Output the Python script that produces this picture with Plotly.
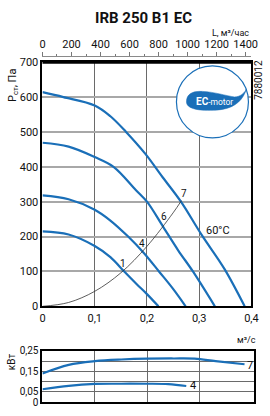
import plotly.graph_objects as go

W, H = 270, 416

# ---- data: pressure curves (flow, m3/s ; static pressure, Pa)
q1 = [0, 0.05, 0.1, 0.13, 0.157, 0.18, 0.2, 0.222]
p1 = [215, 206, 173, 141, 99, 64, 35, 0]
q4 = [0, 0.05, 0.1, 0.13, 0.164, 0.194, 0.223, 0.25, 0.274]
p4 = [318, 307, 277, 246, 200, 153, 100, 50, 0]
q6 = [0, 0.05, 0.1, 0.136, 0.179, 0.2, 0.231, 0.26, 0.288, 0.33]
p6 = [469, 458, 428, 400, 333, 300, 228, 160, 100, 0]
q7 = [0, 0.04, 0.1, 0.13, 0.16, 0.197, 0.23, 0.265, 0.305, 0.348, 0.387]
p7 = [614, 600, 576, 545, 500, 437, 370, 300, 204, 108, 0]
# network (system) curve
qs = [0, 0.05, 0.1, 0.15, 0.2, 0.25, 0.266]
ps = [0, 11, 43, 96, 172, 268, 303]

# ---- data: power curves (flow, m3/s ; kW)
qw7 = [0, 0.05, 0.1, 0.15, 0.2, 0.25, 0.29, 0.33, 0.385]
w7 = [0.14, 0.182, 0.2, 0.208, 0.212, 0.213, 0.212, 0.2, 0.185]
qw4 = [0, 0.05, 0.1, 0.15, 0.2, 0.24, 0.274]
w4 = [0.063, 0.08, 0.089, 0.09, 0.09, 0.088, 0.079]

x_ticks = [0, 0.1, 0.2, 0.3, 0.4]
x_ticktext = ["0", "0,1", "0,2", "0,3", "0,4"]
top_ticks = [0, 200, 400, 600, 800, 1000, 1200, 1400]
kw_ticks = [0, 0.05, 0.1, 0.15, 0.2, 0.25]
kw_ticktext = ["0", "0,05", "", "0,15", "", "0,25"]

BLUE = "#1a6fb8"
FONT = "Roboto"

def px_x(p):
    return p / W

def px_y(p):
    return 1 - p / H

fig = go.Figure()

for q, p in [(q1, p1), (q4, p4), (q6, p6), (q7, p7)]:
    fig.add_trace(go.Scatter(x=q, y=p, mode="lines", line=dict(color=BLUE, width=2.2, shape="spline"),
                             xaxis="x", yaxis="y", showlegend=False, hoverinfo="skip"))
fig.add_trace(go.Scatter(x=qs, y=ps, mode="lines", line=dict(color="#333333", width=0.8, shape="spline"),
                         xaxis="x", yaxis="y", showlegend=False, hoverinfo="skip"))
# invisible trace for top axis
fig.add_trace(go.Scatter(x=[0, 1440], y=[None, None], mode="lines", xaxis="x2", yaxis="y",
                         showlegend=False, hoverinfo="skip"))
for q, w in [(qw7, w7), (qw4, w4)]:
    fig.add_trace(go.Scatter(x=q, y=w, mode="lines", line=dict(color=BLUE, width=2.2, shape="spline"),
                             xaxis="x3", yaxis="y3", showlegend=False, hoverinfo="skip"))

main_x = [px_x(41), px_x(258)]
low_x = [px_x(41), px_x(261)]
main_y = [px_y(310), px_y(58)]
low_y = [px_y(409), px_y(356)]

tickfont = dict(family=FONT, size=11, color="#111")
tickfont_low = dict(family=FONT, size=10, color="#111")

fig.update_layout(
    width=W, height=H, margin=dict(l=0, r=0, t=0, b=0),
    paper_bgcolor="white", plot_bgcolor="white",
    font=dict(family=FONT, color="#111"),
    xaxis=dict(domain=main_x, range=[0, 0.4], anchor="y", tickvals=x_ticks, ticktext=x_ticktext,
               showgrid=True, gridcolor="#6a6a6a", gridwidth=1, zeroline=False,
               showline=True, linecolor="black", linewidth=2, mirror=True, ticks="",
               tickfont=tickfont, fixedrange=True),
    yaxis=dict(domain=main_y, range=[0, 700], dtick=100, anchor="x",
               showgrid=True, gridcolor="#a8a8a8", gridwidth=1.5, zeroline=False,
               showline=True, linecolor="black", linewidth=2, mirror=True, ticks="",
               tickfont=tickfont, fixedrange=True),
    xaxis2=dict(domain=main_x, range=[0, 1440], overlaying="x", side="top", anchor="free",
                position=px_y(52), tickvals=top_ticks, ticks="outside", ticklen=4, tickcolor="#777",
                showline=True, linecolor="#8a8a8a", linewidth=1, showgrid=False, zeroline=False,
                minor=dict(dtick=100, ticks="outside", ticklen=2, tickcolor="#777"),
                tickfont=tickfont, fixedrange=True),
    xaxis3=dict(domain=low_x, range=[0, 0.4037], anchor="y3", tickvals=[0.1, 0.2, 0.3],
                showticklabels=False, showgrid=True, gridcolor="#6a6a6a", gridwidth=1, zeroline=False,
                showline=True, linecolor="black", linewidth=2, mirror=True, ticks="", fixedrange=True),
    yaxis3=dict(domain=low_y, range=[0, 0.25], anchor="x3", tickvals=kw_ticks, ticktext=kw_ticktext,
                showgrid=True, gridcolor="#6a6a6a", gridwidth=1, zeroline=False,
                showline=True, linecolor="black", linewidth=2, mirror=True, ticks="",
                tickfont=tickfont_low, fixedrange=True),
)

# thicker top border of main plot
fig.add_shape(type="line", xref="paper", yref="paper", x0=main_x[0], x1=main_x[1],
              y0=main_y[1], y1=main_y[1], line=dict(color="black", width=3), layer="above")

# EC-motor logo
cx, cy = px_x(217.5), px_y(99)
fig.add_shape(type="circle", xref="paper", yref="paper", xsizemode="pixel", ysizemode="pixel",
              xanchor=cx, yanchor=cy, x0=-36, x1=36, y0=-36, y1=36,
              line=dict(color=BLUE, width=1.2), fillcolor="white", layer="above")
fig.add_shape(type="path", xref="paper", yref="paper", xsizemode="pixel", ysizemode="pixel",
              xanchor=cx, yanchor=cy,
              path="M -26,0 C -26,8 -20,11 -10,10.5 C 2,10 14,6 22,5 C 28,5 32,9 34,13 "
                   "C 31,3 24,-5 10,-7.5 C -5,-9.5 -26,-9 -26,0 Z",
              line=dict(color=BLUE, width=0.5), fillcolor=BLUE, layer="above")

ann = []
def A(text, x, y, size=11, **kw):
    d = dict(text=text, xref="paper", yref="paper", x=px_x(x), y=px_y(y), showarrow=False,
             xanchor="center", yanchor="middle",
             font=dict(family=FONT, size=size, color=kw.pop("color", "#111")))
    d.update(kw)
    ann.append(d)

A("<b>IRB 250 B1 EC</b>", 146, 12, size=15)
A("L, м³/час", 258, 28, size=9, xanchor="right")
A("P<sub>ст</sub>, Па", 11, 82, size=11, textangle=-90)
A("7880012", 265, 76, size=10, textangle=-90)
A("<b><span style='font-size:10px'>EC</span></b>-motor", 220, 98.5, size=8.5, color="white")
A("60°C", 223, 232, size=11)
A("1", 125, 266, size=10)
A("4", 144, 245, size=10)
A("6", 167.5, 217, size=10)
A("7", 187.5, 194, size=10)
A("м³/с", 253, 345, size=9)
A("кВт", 9, 367, size=10, textangle=-90)
A("7", 257, 371, size=11)
A("4", 197, 392, size=11)
fig.update_layout(annotations=ann)

fig.write_html("out.html")
